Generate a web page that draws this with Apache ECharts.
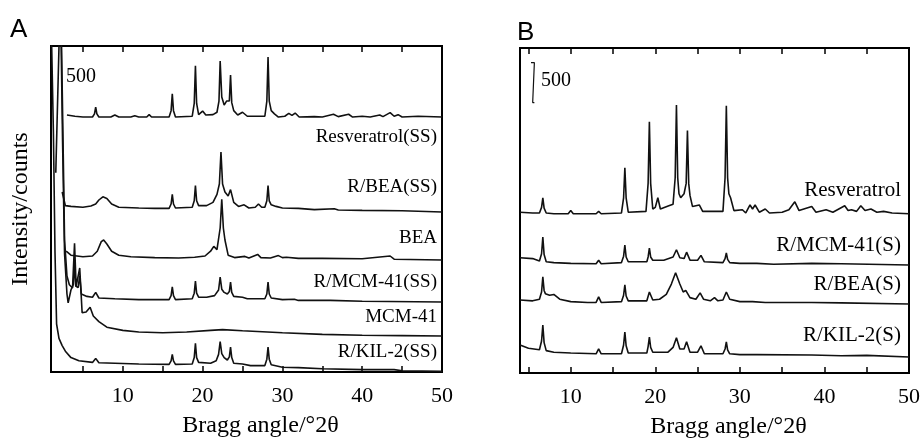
<!DOCTYPE html>
<html>
<head>
<meta charset="utf-8">
<script src="https://cdn.jsdelivr.net/npm/echarts@6/dist/echarts.min.js"></script>
<style>
  html, body { margin: 0; padding: 0; background: #fff; }
  #main { width: 923px; height: 446px; }
</style>
</head>
<body>
<div id="main"></div>
<script>
// x axis ticks / labels (degrees 2theta)
var tickValues = [5, 10, 15, 20, 25, 30, 35, 40, 45, 50];
var labelValues = [10, 20, 30, 40, 50];

// panel A : [2theta, counts above own baseline]
var resSS = [[3.0,25],[4,10],[5,0],[6.2,0],[6.45,40],[6.6,125],[6.75,40],[7.0,0],[8.5,0],[9,25],[9.5,0],[11,0],[11.5,15],[12,0],[13,0],[13.3,30],[13.6,0],
  [15.8,0],[16.05,80],[16.2,290],[16.35,80],[16.6,0],[18.7,10],[18.95,170],[19.1,640],[19.25,170],[19.5,30],[20.0,75],[20.4,25],[21.3,30],[21.8,60],
  [22.05,200],[22.2,700],[22.4,250],[22.7,150],[23.0,200],[23.35,200],[23.5,525],[23.65,180],[23.9,80],[24.4,25],[25.0,60],[25.6,10],[27.8,10],
  [28.05,200],[28.2,750],[28.35,200],[28.6,80],[29.0,40],[29.5,0],[30.3,10],[30.8,45],[31.2,20],
  [31.6,50],[32.1,0],[34,5],[35,0],[36.4,35],[37,5],[38.3,35],[38.8,0],[40,10],[41,0],[42.2,25],[42.6,5],[43.5,55],[44.0,10],[44.5,30],
  [45.0,0],[47,10],[50,0]];
var rbeaSS = [[2.4,250],[2.8,80],[3.5,70],[5,60],[6,75],[6.6,100],[7.0,150],[7.5,190],[8.0,170],[8.6,100],[9.5,60],[12,50],[14,45],
  [15.8,45],[16.05,100],[16.2,220],[16.35,100],[16.6,50],[18.7,60],[18.95,140],[19.1,330],[19.25,140],[19.5,80],[20.5,80],[21.3,120],[21.8,220],
  [22.1,350],[22.3,750],[22.5,350],[22.8,250],[23.2,200],[23.5,280],[23.9,120],[24.5,70],[25.2,90],[25.8,50],[26.6,60],[27.0,100],[27.4,60],
  [27.8,60],[28.05,140],[28.2,330],[28.35,140],[28.6,90],[29.2,70],[30,50],[32,45],[34,30],[36.5,40],[37,25],[40,20],[45,15],[50,0]];
var beaA = [[2.9,110],[3.5,60],[5,40],[6.2,50],[6.8,110],[7.3,230],[7.6,250],[8.0,200],[8.6,110],[9.5,60],[11,40],[14,30],[17,25],
  [19,35],[20.3,50],[21.0,110],[21.4,170],[21.8,130],[22.2,400],[22.4,760],[22.6,400],[22.8,250],[23.2,60],[24,30],[25.3,45],[25.8,25],[26.9,70],
  [27.3,30],[28.5,25],[29.5,55],[30,30],[30.5,35],[32,20],[35,20],[40,15],[43.5,50],[44,10],[50,0]];
var rmcmSS = [[2.1,4400],[2.45,2000],[2.7,600],[3.0,100],[3.15,-10],[3.5,150],[3.8,220],[3.95,500],[4.1,200],[4.4,180],[4.6,330],
  [4.8,100],[5.5,70],[6.2,60],[6.6,120],[7.0,50],[9,40],[12,30],[15.8,30],[16.05,80],[16.2,190],[16.35,80],[16.6,30],[18.7,40],[18.95,110],
  [19.1,260],[19.25,110],[19.5,60],[20.5,60],[21.5,80],[22.0,150],[22.2,310],[22.4,160],[22.7,120],[23.1,100],[23.35,130],[23.5,250],[23.65,120],
  [23.9,70],[25,60],[25.6,40],[27.8,40],[28.05,100],[28.2,250],[28.35,100],[28.6,50],[30,30],[31.5,35],
  [32,20],[36,20],[40,10],[50,0]];
var mcmA = [[1.6,2040],[2.2,4400],[2.5,2500],[2.7,1200],[3.0,750],[3.3,640],[3.7,600],[3.95,1160],[4.15,620],[4.4,600],[4.6,850],
  [4.9,290],[5.4,300],[5.9,360],[6.3,250],[7.0,180],[8,110],[10,70],[12,50],[15,40],[18,50],[21,70],[22.5,80],[25,65],[30,40],[35,20],
  [40,10],[45,5],[50,0]];
var rkilSS = [[1.0,4500],[1.3,3000],[1.5,1500],[1.7,600],[2.0,420],[2.4,330],[2.8,260],[3.5,180],[4.5,140],[6.2,120],[6.6,170],
  [7.0,115],[9,110],[12,100],[15.8,95],[16.05,140],[16.2,220],[16.35,140],[16.6,95],[18.7,100],[18.95,180],[19.1,360],[19.25,180],[19.5,120],
  [21,110],[21.7,140],[22.0,220],[22.2,380],[22.4,230],[22.7,180],[23.1,150],[23.35,190],[23.5,310],[23.65,180],[23.9,110],[25,100],[26,80],
  [27.8,80],[28.05,160],[28.2,310],[28.35,160],[28.6,90],[30,60],[32,55],[35,40],[40,30],[44,30],[45,15],[50,10]];

// panel B
var resB = [[4.0,20],[5.5,10],[6.3,10],[6.55,80],[6.7,200],[6.85,70],[7.1,10],[8,0],[9.7,0],[10.0,40],[10.3,0],[13.0,0],[13.3,30],[13.6,0],[16.0,10],
  [16.25,200],[16.4,575],[16.55,200],[16.8,20],[18.9,30],[19.15,380],[19.3,1150],[19.45,380],[19.7,60],[20.0,80],[20.3,200],[20.6,60],[21.6,100],
  [22.1,120],[22.35,450],[22.5,1360],[22.65,450],[22.8,250],[23.0,200],[23.4,250],[23.65,380],[23.8,1040],[23.95,380],[24.1,230],[24.4,90],
  [25.2,110],[25.6,30],[28.0,30],[28.25,450],[28.4,1350],[28.55,450],[28.7,250],[28.9,200],[29.3,40],
  [30.3,50],[30.7,10],[31.2,110],[31.5,60],[31.8,110],[32.3,20],[33.0,60],[33.5,10],[35.0,20],[35.8,50],[36.5,150],[37.0,40],[38.5,90],
  [39.0,20],[40.2,50],[41.0,20],[42.4,100],[42.8,40],[43.2,50],[43.8,30],[44.3,100],[44.8,40],[45.5,60],[46.2,20],[47,30],[48,10],[50,0]];
var rmcmS = [[4.0,90],[5.5,80],[6.3,50],[6.55,140],[6.7,350],[6.85,130],[7.1,40],[8,30],[10,20],[13.0,15],[13.3,60],[13.6,15],[16.0,30],
  [16.25,110],[16.4,250],[16.55,100],[16.8,40],[19.0,40],[19.15,100],[19.3,210],[19.45,100],[19.7,60],[21,60],[22.1,100],[22.5,190],[22.9,90],
  [23.4,80],[23.7,160],[24.1,60],[25.0,60],[25.4,120],[25.8,40],[28.0,30],[28.25,80],[28.4,150],[28.55,70],[28.8,30],[30,20],[32,20],[34,10],
  [38.5,20],[42,15],[50,0]];
var rbeaS = [[4.0,50],[5.5,40],[6.3,60],[6.55,150],[6.7,340],[6.85,170],[7.0,130],[7.5,110],[8.0,120],[8.7,60],[10,30],[12,20],[13.0,20],[13.3,90],[13.6,20],
  [16.0,30],[16.25,110],[16.4,240],[16.55,100],[16.8,40],[19.0,40],[19.3,150],[19.7,50],[20.5,60],[21.3,120],[21.9,250],[22.4,390],[22.9,250],[23.3,150],
  [23.6,170],[24.1,80],[24.8,60],[25.3,140],[25.7,60],[26.5,40],[27.0,80],[27.4,40],[28.0,50],[28.4,150],[28.8,60],[30,30],[31.5,30],
  [33,20],[38.5,20],[42,15],[50,0]];
var rkilS = [[4.0,150],[5,110],[6.3,90],[6.55,200],[6.7,400],[6.85,180],[7.1,80],[8,60],[10,50],[13.0,40],[13.3,100],[13.6,40],[16.0,40],
  [16.25,150],[16.4,310],[16.55,140],[16.8,50],[19.0,50],[19.15,130],[19.3,250],[19.45,120],[19.7,60],[21.5,60],[22.1,120],[22.5,240],[22.9,100],
  [23.4,100],[23.7,190],[24.1,60],[25.0,60],[25.4,140],[25.8,40],[28.0,40],[28.25,100],[28.4,190],[28.55,90],[28.8,40],[30,30],[32,30],
  [38.5,25],[42,15],[45,20],[50,0]];

// vertical offsets (counts) used to stack the patterns
var namesA = ['Resveratrol(SS)', 'R/BEA(SS)', 'BEA', 'R/MCM-41(SS)', 'MCM-41', 'R/KIL-2(SS)'];
var dataA = [resSS, rbeaSS, beaA, rmcmSS, mcmA, rkilSS];
var offsetsA = [3187, 2000, 1400, 875, 450, 0];
var namesB = ['Resveratrol', 'R/MCM-41(S)', 'R/BEA(S)', 'R/KIL-2(S)'];
var dataB = [resB, rmcmS, rbeaS, rkilS];
var offsetsB = [1990, 1350, 862, 200];
// 500 count scale bar in panel B
var scaleBar = [[5.3,3879],[5.7,3879],[5.5,3879],[5.5,3379],[5.3,3379],[5.7,3379]];

var serif = 'Liberation Serif';
var ink = '#000';

function xAxes(grid, min) {
  return [{
    gridIndex: grid, type: 'value', min: min, max: 50, position: 'bottom',
    axisLine: { show: false }, splitLine: { show: false },
    axisTick: { inside: true, length: 6, customValues: tickValues, lineStyle: { color: ink, width: 1.5 } },
    axisLabel: { customValues: labelValues, margin: 13, fontFamily: serif, fontSize: 22, color: ink },
    name: 'Bragg angle/°2θ', nameLocation: 'middle', nameGap: 42,
    nameTextStyle: { fontFamily: serif, fontSize: 24, color: ink, padding: [0, 0, 0, 28] }
  }, {
    gridIndex: grid, type: 'value', min: min, max: 50, position: 'top',
    axisLine: { show: false }, splitLine: { show: false }, axisLabel: { show: false },
    axisTick: { inside: true, length: 6, customValues: tickValues, lineStyle: { color: ink, width: 1.5 } }
  }];
}

function lineSeries(name, pts, off, xi, yi) {
  return {
    name: name, type: 'line', xAxisIndex: xi, yAxisIndex: yi, showSymbol: false, symbol: 'none',
    clip: true, silent: true,
    lineStyle: { color: '#111', width: 1.6 },
    data: pts.map(function (p) { return [p[0], p[1] + off]; })
  };
}

var series = [];
namesA.forEach(function (n, i) { series.push(lineSeries(n, dataA[i], offsetsA[i], 0, 0)); });
namesB.forEach(function (n, i) { series.push(lineSeries(n, dataB[i], offsetsB[i], 2, 1)); });
series.push({ type: 'line', xAxisIndex: 2, yAxisIndex: 1, symbol: 'none', silent: true,
  lineStyle: { color: '#111', width: 1.2 }, data: scaleBar });

function label(text, right, cy, size) {
  return { type: 'text', right: right, top: cy - size * 0.6,
    style: { text: text, font: size + 'px "' + serif + '"', fill: ink } };
}

var chart = echarts.init(document.getElementById('main'), null, { renderer: 'canvas' });
chart.setOption({
  animation: false,
  backgroundColor: '#fff',
  grid: [
    { left: 51, top: 46, width: 391, height: 326, show: true, borderColor: '#000', borderWidth: 2 },
    { left: 520, top: 48, width: 390, height: 325, show: true, borderColor: '#000', borderWidth: 2 }
  ],
  xAxis: xAxes(0, 1).concat(xAxes(1, 4)),
  yAxis: [
    { gridIndex: 0, type: 'value', min: 0, max: 4075, axisLine: { show: false }, axisTick: { show: false },
      axisLabel: { show: false }, splitLine: { show: false },
      name: 'Intensity/counts', nameLocation: 'middle', nameRotate: 90, nameGap: 18,
      nameTextStyle: { fontFamily: serif, fontSize: 24, color: ink } },
    { gridIndex: 1, type: 'value', min: 0, max: 4062, show: false }
  ],
  graphic: [
    { type: 'text', left: 10, top: 17, style: { text: 'A', font: '26px "Liberation Sans"', fill: ink } },
    { type: 'text', left: 517, top: 20, style: { text: 'B', font: '26px "Liberation Sans"', fill: ink } },
    { type: 'text', left: 66, top: 67, style: { text: '500', font: '20px "' + serif + '"', fill: ink } },
    { type: 'text', left: 541, top: 71, style: { text: '500', font: '20px "' + serif + '"', fill: ink } },
    label('Resveratrol(SS)', 923 - 437, 139, 19),
    label('R/BEA(SS)', 923 - 437, 189, 19),
    label('BEA', 923 - 437, 240, 19),
    label('R/MCM-41(SS)', 923 - 437, 284, 19),
    label('MCM-41', 923 - 437, 319, 19),
    label('R/KIL-2(SS)', 923 - 437, 354, 19),
    label('Resveratrol', 923 - 901, 193, 21),
    label('R/MCM-41(S)', 923 - 901, 248, 21),
    label('R/BEA(S)', 923 - 901, 287, 21),
    label('R/KIL-2(S)', 923 - 901, 338, 21)
  ],
  series: series
});
</script>
</body>
</html>
